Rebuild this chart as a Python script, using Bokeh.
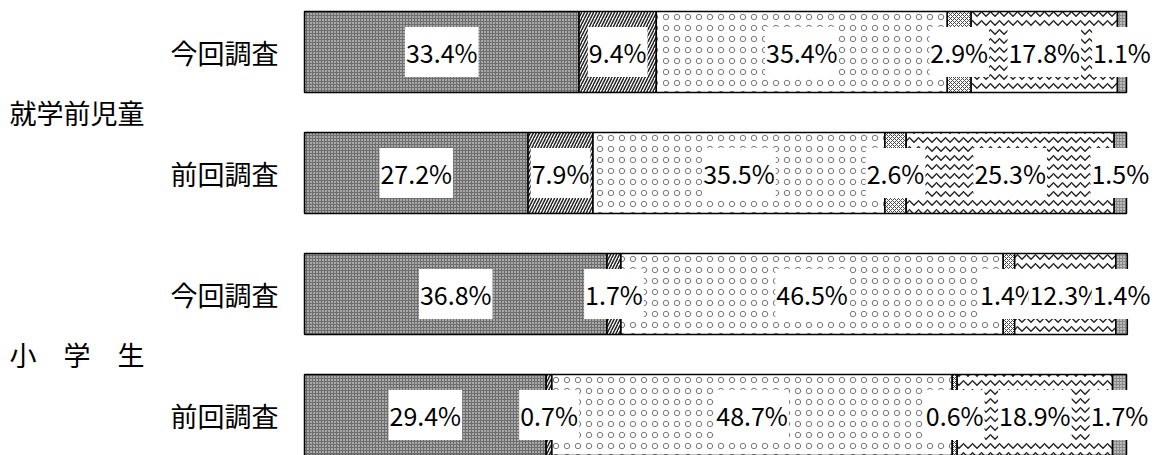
from bokeh.plotting import figure
from bokeh.models import ColumnDataSource, Range1d, Label
from bokeh.core.properties import value
from bokeh.embed import file_html
from bokeh.resources import INLINE

# ---- data ----
groups = ["就学前児童", "小　学　生"]
surveys = ["今回調査", "前回調査", "今回調査", "前回調査"]
s1 = [33.4, 27.2, 36.8, 29.4]
s2 = [9.4, 7.9, 1.7, 0.7]
s3 = [35.4, 35.5, 46.5, 48.7]
s4 = [2.9, 2.6, 1.4, 0.6]
s5 = [17.8, 25.3, 12.3, 18.9]
s6 = [1.1, 1.5, 1.4, 1.7]
series = [s1, s2, s3, s4, s5, s6]

rows = list(range(len(surveys)))

styles = [
    dict(fill_color="#6e6e6e", hatch_pattern="dot", hatch_color="white", hatch_scale=3, hatch_weight=1),
    dict(fill_color="white", hatch_pattern="right_diagonal_line", hatch_color="#222222", hatch_scale=6, hatch_weight=1.5),
    dict(fill_color="white", hatch_pattern="ring", hatch_color="#777777", hatch_scale=11, hatch_weight=1),
    dict(fill_color="white", hatch_pattern="diagonal_cross", hatch_color="#444444", hatch_scale=4, hatch_weight=1),
    dict(fill_color="white", hatch_pattern="horizontal_wave", hatch_color="#222222", hatch_scale=9, hatch_weight=1.4),
    dict(fill_color="#8a8a8a", hatch_pattern="dot", hatch_color="white", hatch_scale=3, hatch_weight=1),
]

W, H = 1174, 455
px_per_unit = 8.22
bar_left_px = 304
row_px = 121
row0_px = 51.5

p = figure(width=W, height=H, output_backend="svg", toolbar_location=None,
           x_range=Range1d(-bar_left_px / px_per_unit, (W - bar_left_px) / px_per_unit),
           y_range=Range1d((H - row0_px) / row_px, -row0_px / row_px),
           min_border=0, outline_line_color=None)
p.xaxis.visible = False
p.yaxis.visible = False
p.grid.visible = False
p.background_fill_color = "white"
p.border_fill_color = "white"

cum = [0.0] * len(rows)
lab_x, lab_y, lab_t = [], [], []
for vals, st in zip(series, styles):
    left = list(cum)
    right = [c + v for c, v in zip(cum, vals)]
    src = ColumnDataSource(dict(y=rows, left=left, right=right))
    p.hbar(y="y", left="left", right="right", height=81 / row_px, source=src,
           line_color="black", line_width=1.5, **st)
    for r in rows:
        lab_x.append((left[r] + right[r]) / 2)
        lab_y.append(r)
        lab_t.append(f"{vals[r]:.1f}%")
    cum = right

lab_src = ColumnDataSource(dict(x=lab_x, y=lab_y, t=lab_t))
p.text(x="x", y="y", text="t", source=lab_src, text_align="center", text_baseline="middle",
       text_font=value("Noto Sans CJK JP"), text_font_size="25px", text_color="black",
       background_fill_color="white",
       padding=dict(left=1, right=1, top=7, bottom=7))

for r, s in zip(rows, surveys):
    p.add_layout(Label(x=278, x_units="screen", y=r, text=s, text_align="right",
                       text_baseline="middle", text_font="Noto Sans CJK JP",
                       text_font_size="27px", text_color="black"))
for g_i, g in enumerate(groups):
    p.add_layout(Label(x=9, x_units="screen", y=2 * g_i + 0.5, text=g, text_align="left",
                       text_baseline="middle", text_font="Noto Sans CJK JP",
                       text_font_size="27px", text_color="black"))

open("out.html", "w").write(file_html(p, INLINE))
